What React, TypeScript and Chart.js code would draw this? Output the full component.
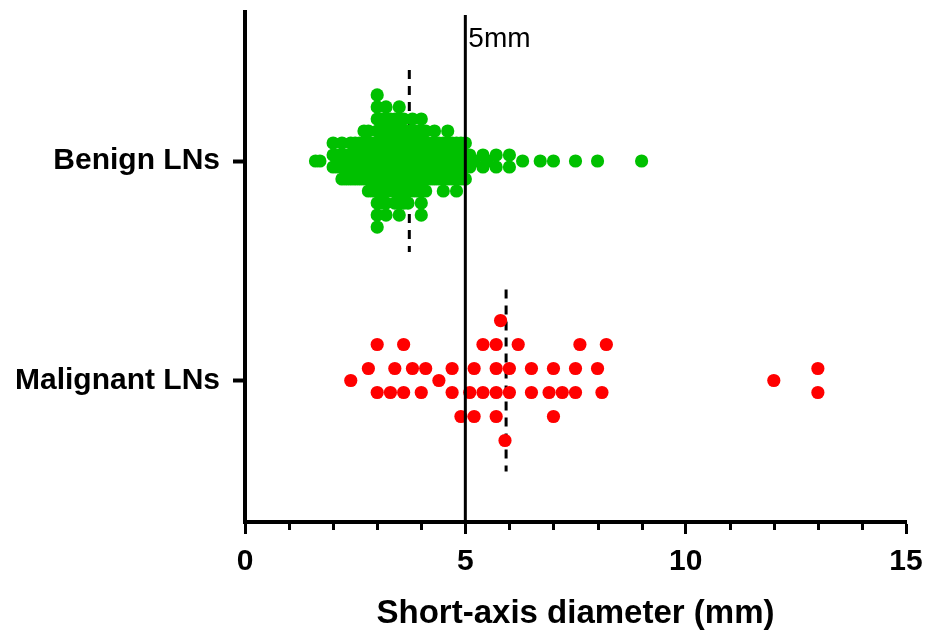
import React, { useEffect, useRef } from 'react';
import { Chart, registerables } from 'chart.js';

Chart.register(...registerables);

// ---- data ----
const categories = ['Malignant LNs', 'Benign LNs']; // y = 0, y = 1
const benignSizes = [
  1.6, 1.7, 2.0, 2.1, 2.2, 2.3, 2.4, 2.5, 2.6, 2.7, 2.8, 2.9, 3.0, 3.1, 3.2, 3.3, 3.4, 3.5, 3.6, 3.7, 3.8, 3.9,
  4.0, 4.1, 4.2, 4.3, 4.4, 4.5, 4.6, 4.7, 4.8, 4.9, 5.0, 5.1, 5.2, 5.4, 5.5, 5.7, 6.0, 6.3, 6.7, 7.0, 7.5, 8.0, 9.0,
];
const benignCounts = [
  1, 1, 3, 2, 4, 3, 4, 4, 4, 5, 6, 5, 12, 8, 10, 7, 8, 10, 8, 7, 7, 6,
  9, 6, 4, 5, 4, 5, 5, 4, 5, 4, 4, 2, 1, 2, 1, 2, 2, 1, 1, 1, 1, 1, 1,
];
const malignantSizes = [
  5.7, 6.0, 3.0, 3.6, 4.0, 5.2, 5.8, 6.9, 7.2, 7.6, 2.8, 3.3, 3.6, 4.7, 5.4, 5.7, 6.0, 6.5, 7.5, 8.0, 13.0,
  2.4, 4.4, 12.0, 3.0, 3.4, 4.1, 4.7, 5.1, 5.4, 5.7, 6.2, 6.5, 7.0, 7.5, 8.2, 13.0, 3.8, 4.9, 5.2, 5.9, 7.0,
  8.1, 5.7,
];
const xTickValues = [0, 5, 10, 15];
const xMinorStep = 1;
const thresholdMm = 5;
const thresholdLabel = '5mm';
const xTitle = 'Short-axis diameter (mm)';

// ---- layout / style ----
const FONT = '"Liberation Sans", Arial, Helvetica, sans-serif';
const Y_MIN = -0.6446;
const Y_MAX = 1.6788;
const LINE_TOP = 1.665;
const BENIGN_LANE = 0.0547;
const MALIGNANT_LANE = 0.1093;
const MEAN_HALF = 0.415;

function expand(values: number[], counts: number[]): number[] {
  const out: number[] = [];
  values.forEach((v, i) => {
    for (let k = 0; k < counts[i]; k++) out.push(v);
  });
  return out;
}

// beeswarm layout: equal/close values are spread over lanes around the category line
function swarm(values: number[], minGap: number): number[] {
  const idx = values.map((_, i) => i).sort((a, b) => values[a] - values[b]);
  const lanes: number[] = new Array(values.length).fill(0);
  const placed: { v: number; lane: number }[] = [];
  let up = 0;
  let down = 0;
  const free = (L: number, v: number) => !placed.some((p) => p.lane === L && Math.abs(p.v - v) < minGap);
  for (const i of idx) {
    const v = values[i];
    const isolated = values.every((w, j) => j === i || Math.abs(w - v) >= minGap);
    let lane = 0;
    if (!isolated) {
      for (let k = 0.5; k < 80; k += 1) {
        const fu = free(k, v);
        const fd = free(-k, v);
        if (fu && fd) {
          lane = up <= down ? k : -k;
          break;
        }
        if (fu) {
          lane = k;
          break;
        }
        if (fd) {
          lane = -k;
          break;
        }
      }
      if (lane > 0) up++;
      else down++;
    }
    placed.push({ v, lane });
    lanes[i] = lane;
  }
  return lanes;
}

const mean = (a: number[]) => a.reduce((s, v) => s + v, 0) / a.length;

const noPad = (scale: any) => {
  scale.paddingLeft = 0;
  scale.paddingRight = 0;
  scale.paddingTop = 0;
  scale.paddingBottom = 0;
};

export default function App() {
  const ref = useRef<HTMLCanvasElement>(null);

  useEffect(() => {
    if (!ref.current) return;
    const benign = expand(benignSizes, benignCounts);
    const bl = swarm(benign, 0.05);
    const ml = swarm(malignantSizes, 0.29);
    const benignPts = benign.map((v, i) => ({ x: v, y: 1 + bl[i] * BENIGN_LANE }));
    const malignantPts = malignantSizes.map((v, i) => ({ x: v, y: 0 + ml[i] * MALIGNANT_LANE }));
    const bMean = mean(benign);
    const mMean = mean(malignantSizes);

    const annotate = {
      id: 'annotate',
      afterDraw(chart: any) {
        const { ctx, chartArea } = chart;
        const x = chart.scales.x;
        ctx.save();
        ctx.strokeStyle = '#000';
        ctx.lineWidth = 3;
        for (let v = x.min; v <= x.max; v += xMinorStep) {
          if (xTickValues.includes(v)) continue;
          const px = Math.round(x.getPixelForValue(v)) + 0.5;
          ctx.beginPath();
          ctx.moveTo(px, chartArea.bottom);
          ctx.lineTo(px, chartArea.bottom + 8);
          ctx.stroke();
        }
        ctx.fillStyle = '#000';
        ctx.font = `28px ${FONT}`;
        ctx.textAlign = 'left';
        ctx.textBaseline = 'middle';
        ctx.fillText(thresholdLabel, x.getPixelForValue(thresholdMm) + 3, chartArea.top + 27);
        ctx.restore();
      },
    };

    const chart = new Chart(ref.current, {
      type: 'scatter',
      data: {
        datasets: [
          {
            type: 'line',
            data: [
              { x: thresholdMm, y: LINE_TOP },
              { x: thresholdMm, y: Y_MIN },
            ],
            borderColor: '#000',
            borderWidth: 3,
            pointRadius: 0,
            order: 0,
          } as any,
          {
            data: benignPts,
            backgroundColor: '#00C000',
            borderWidth: 0,
            pointRadius: 6.6,
            order: 1,
          },
          {
            data: malignantPts,
            backgroundColor: '#FF0000',
            borderWidth: 0,
            pointRadius: 6.6,
            order: 1,
          },
          {
            type: 'line',
            data: [
              { x: bMean, y: 1 + MEAN_HALF },
              { x: bMean, y: 1 - MEAN_HALF },
            ],
            borderColor: '#000',
            borderWidth: 3,
            borderDash: [9, 7],
            pointRadius: 0,
            order: 2,
          } as any,
          {
            type: 'line',
            data: [
              { x: mMean, y: 0 + MEAN_HALF },
              { x: mMean, y: 0 - MEAN_HALF },
            ],
            borderColor: '#000',
            borderWidth: 3,
            borderDash: [9, 7],
            pointRadius: 0,
            order: 2,
          } as any,
        ],
      },
      options: {
        responsive: false,
        animation: false,
        layout: { padding: { top: 12, right: 19, left: 0, bottom: 0 } },
        plugins: { legend: { display: false }, tooltip: { enabled: false } },
        scales: {
          x: {
            type: 'linear',
            min: 0,
            max: 15,
            afterBuildTicks: (scale: any) => {
              scale.ticks = xTickValues.map((v) => ({ value: v }));
            },
            afterFit: (scale: any) => {
              scale.height = 112;
              noPad(scale);
            },
            ticks: {
              color: '#000',
              font: { family: FONT, size: 30, weight: 'bold' },
              padding: 10,
              maxRotation: 0,
            },
            grid: {
              drawOnChartArea: false,
              drawTicks: true,
              tickLength: 12,
              tickWidth: 3,
              tickColor: '#000',
            },
            border: { color: '#000', width: 4 },
            title: {
              display: true,
              text: xTitle,
              color: '#000',
              font: { family: FONT, size: 33, weight: 'bold' },
              padding: { top: 0, bottom: 0 },
            },
          },
          y: {
            type: 'linear',
            min: Y_MIN,
            max: Y_MAX,
            afterBuildTicks: (scale: any) => {
              scale.ticks = categories.map((_, i) => ({ value: i }));
            },
            afterFit: (scale: any) => {
              scale.width = 245;
              noPad(scale);
            },
            ticks: {
              color: '#000',
              font: { family: FONT, size: 30, weight: 'bold' },
              padding: 13,
              callback: (v: any) => categories[Math.round(Number(v))] ?? '',
            },
            grid: {
              drawOnChartArea: false,
              drawTicks: true,
              tickLength: 12,
              tickWidth: 4,
              tickColor: '#000',
            },
            border: { color: '#000', width: 4 },
          },
        },
      },
      plugins: [annotate],
    });
    return () => chart.destroy();
  }, []);

  return (
    <div style={{ position: 'absolute', left: 0, top: 0, width: 925, height: 634, background: '#fff' }}>
      <canvas ref={ref} width={925} height={634} style={{ display: 'block', width: 925, height: 634 }} />
    </div>
  );
}
